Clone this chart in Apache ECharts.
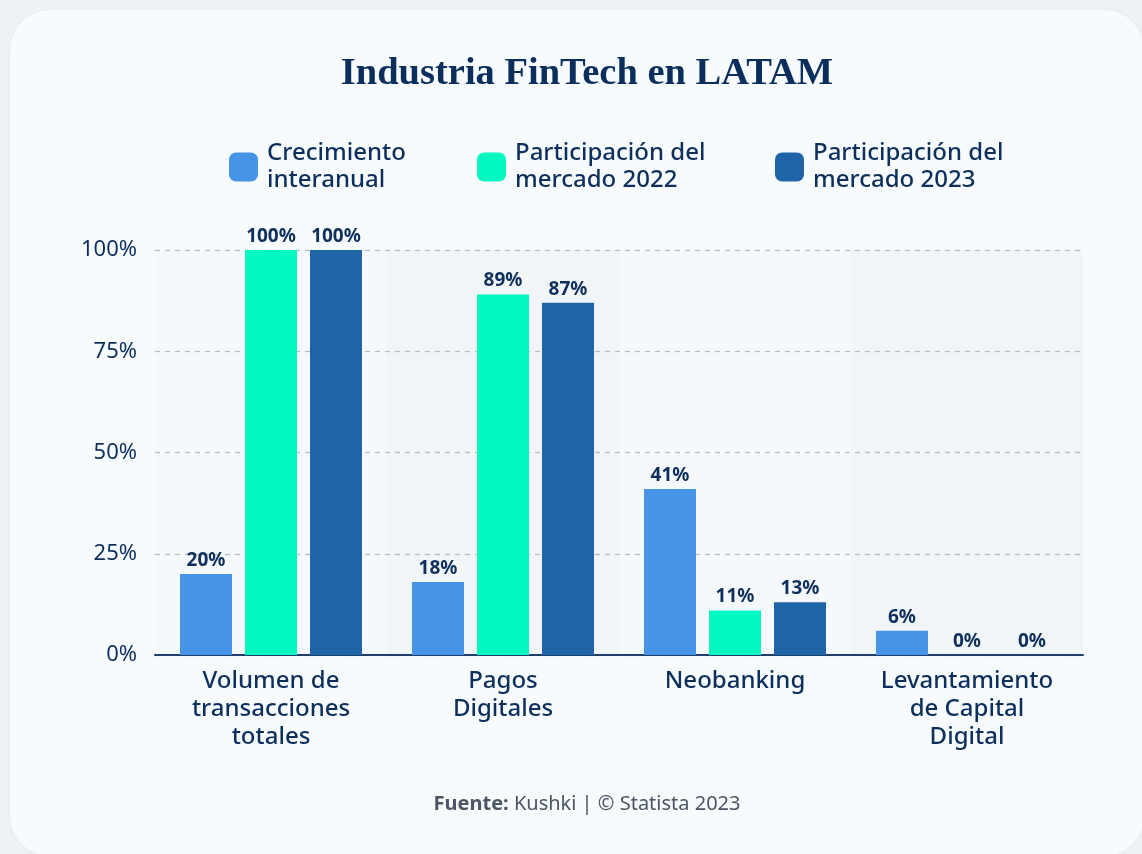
<!DOCTYPE html>
<html>
<head>
<meta charset="utf-8">
<script src="https://cdn.jsdelivr.net/npm/echarts@6/dist/echarts.min.js"></script>
<style>
  html, body { margin: 0; padding: 0; width: 1142px; height: 854px; background: #eff2f5; overflow: hidden; }
  #card { position: absolute; left: 10px; top: 10px; width: 1134px; height: 846px; background: #f7fbfe; border-radius: 40px; box-shadow: 0 0 3px rgba(0,0,0,0.06); }
  #chart { position: absolute; left: 0; top: 0; width: 1142px; height: 854px; }
</style>
</head>
<body>
<div id="card"></div>
<div id="chart"></div>
<script>
const titleText = 'Industria FinTech en LATAM';
const categories = ['Volumen de\ntransacciones\ntotales', 'Pagos\nDigitales', 'Neobanking', 'Levantamiento\nde Capital\nDigital'];
const seriesNames = ['Crecimiento\ninteranual', 'Participación del\nmercado 2022', 'Participación del\nmercado 2023'];
const crecimiento = [20, 18, 41, 6];
const mercado2022 = [100, 89, 11, 0];
const mercado2023 = [100, 87, 13, 0];
const yTicks = [0, 25, 50, 75, 100];
const sourceBold = 'Fuente:';
const sourceRest = ' Kushki | © Statista 2023';

const colors = ['#4594e6', '#02f8c1', '#2064a8'];
const navy = '#0e2f5c';
const sans = '"Noto Sans", sans-serif';

const chart = echarts.init(document.getElementById('chart'), null, { renderer: 'canvas' });

const seriesData = [crecimiento, mercado2022, mercado2023];
const legendLefts = [229, 477, 775];

const option = {
  backgroundColor: 'transparent',
  animation: false,
  legend: seriesNames.map((n, i) => ({
    data: [n],
    left: legendLefts[i],
    top: 140,
    padding: 0,
    itemWidth: 29,
    itemHeight: 29,
    icon: 'roundRect',
    selectedMode: false,
    textStyle: { color: navy, fontSize: 24, lineHeight: 27, fontFamily: sans, fontWeight: 500, padding: [0, 0, 0, 4] }
  })),
  grid: { left: 155, right: 59, top: 250, bottom: 199, containLabel: false },
  xAxis: [
    {
      type: 'category',
      data: categories,
      position: 'bottom',
      z: 0,
      axisLine: { show: false },
      axisTick: { show: false },
      axisLabel: { show: false },
      splitArea: { show: true, areaStyle: { color: ['#f6f9fc', '#f2f5f8'] } }
    },
    {
      type: 'category',
      data: categories,
      position: 'bottom',
      z: 2,
      axisLine: { show: true, lineStyle: { color: '#1e3f6b', width: 2 } },
      axisTick: { show: false },
      splitArea: { show: false },
      axisLabel: { color: navy, fontSize: 24, lineHeight: 28, fontFamily: sans, fontWeight: 500, margin: 12, interval: 0 }
    }
  ],
  yAxis: {
    type: 'value',
    min: 0,
    max: 100,
    interval: 25,
    z: 1,
    axisLine: { show: false },
    axisTick: { show: false },
    splitLine: { show: true, lineStyle: { color: '#b9bdc3', type: [5, 5], width: 1.3 } },
    axisLabel: { color: navy, fontSize: 22, fontFamily: sans, margin: 18, formatter: v => v + '%' }
  },
  series: seriesNames.map((n, i) => ({
    name: n,
    type: 'bar',
    xAxisIndex: 1,
    z: 3,
    data: seriesData[i],
    barWidth: 52,
    barGap: '25%',
    itemStyle: { color: colors[i] },
    label: {
      show: true,
      position: 'top',
      distance: 4,
      color: navy,
      fontSize: 19,
      fontWeight: 'bold',
      fontFamily: sans,
      formatter: p => p.value + '%'
    }
  })),
  graphic: [
    {
      type: 'text',
      x: 587, y: 74,
      style: {
        text: titleText,
        fill: '#0b2e5c',
        font: 'bold 38.5px "Liberation Serif", serif',
        textAlign: 'center',
        textVerticalAlign: 'middle'
      }
    },
    {
      type: 'text',
      x: 587, y: 804,
      style: {
        text: '{b|' + sourceBold + '}{r|' + sourceRest + '}',
        textAlign: 'center',
        textVerticalAlign: 'middle',
        rich: {
          b: { fontFamily: sans, fontSize: 20, fontWeight: 'bold', fill: '#4b5563' },
          r: { fontFamily: sans, fontSize: 20, fill: '#4b5563' }
        }
      }
    }
  ]
};
chart.setOption(option);
</script>
</body>
</html>
